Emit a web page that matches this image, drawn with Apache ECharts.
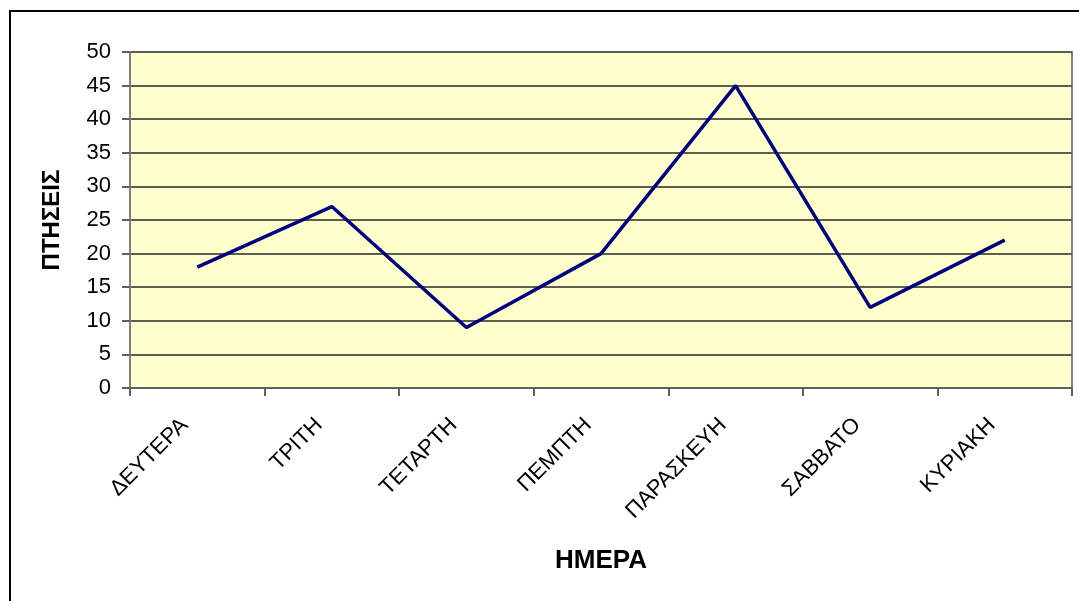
<!DOCTYPE html>
<html>
<head>
<meta charset="utf-8">
<script src="https://cdn.jsdelivr.net/npm/echarts@6/dist/echarts.min.js"></script>
<style>
  html, body { margin: 0; padding: 0; background: #fff; }
  #chart { width: 1079px; height: 601px; }
</style>
</head>
<body>
<div id="chart"></div>
<script>
// Flights per weekday
const days = ['ΔΕΥΤΕΡΑ', 'ΤΡΙΤΗ', 'ΤΕΤΑΡΤΗ', 'ΠΕΜΠΤΗ', 'ΠΑΡΑΣΚΕΥΗ', 'ΣΑΒΒΑΤΟ', 'ΚΥΡΙΑΚΗ'];
const flights = [18, 27, 9, 20, 45, 12, 22];
const yTicks = [0, 5, 10, 15, 20, 25, 30, 35, 40, 45, 50];

const FONT = '"Liberation Sans", Arial, sans-serif';

const chart = echarts.init(document.getElementById('chart'), null, { renderer: 'canvas' });

chart.setOption({
  animation: false,
  backgroundColor: '#ffffff',
  textStyle: { fontFamily: FONT },
  graphic: [
    {
      // outer chart frame (left and top edges visible)
      type: 'rect',
      shape: { x: 10, y: 11, width: 1200, height: 800 },
      style: { fill: 'none', stroke: '#000', lineWidth: 2 },
      silent: true,
      z: 100
    }
  ],
  grid: {
    left: 130,
    top: 52,
    right: 7,
    bottom: 213,
    show: true,
    backgroundColor: '#FFFFCC',
    borderColor: '#808080',
    borderWidth: 2
  },
  xAxis: {
    type: 'category',
    data: days,
    boundaryGap: true,
    name: 'ΗΜΕΡΑ',
    nameLocation: 'middle',
    nameGap: 160,
    nameTextStyle: { fontFamily: FONT, fontSize: 26, fontWeight: 'bold', color: '#000' },
    axisLine: { lineStyle: { color: '#606060', width: 2 } },
    axisTick: { show: true, length: 8, lineStyle: { color: '#606060', width: 2 } },
    axisLabel: {
      rotate: 45,
      interval: 0,
      margin: 21,
      padding: [0, 18, 0, 0],
      fontFamily: FONT,
      fontSize: 22,
      color: '#000'
    },
    splitLine: { show: false }
  },
  yAxis: {
    type: 'value',
    min: yTicks[0],
    max: yTicks[yTicks.length - 1],
    interval: yTicks[1] - yTicks[0],
    name: 'ΠΤΗΣΕΙΣ',
    nameLocation: 'middle',
    nameGap: 66,
    nameRotate: 90,
    nameTextStyle: { fontFamily: FONT, fontSize: 24, fontWeight: 'bold', color: '#000' },
    axisLine: { show: true, lineStyle: { color: '#808080', width: 2 } },
    axisTick: { show: true, length: 8, lineStyle: { color: '#606060', width: 2 } },
    axisLabel: {
      margin: 19,
      fontFamily: FONT,
      fontSize: 22,
      color: '#000'
    },
    splitLine: { show: true, lineStyle: { color: '#5e5e50', width: 2 } }
  },
  series: [
    {
      type: 'line',
      data: flights,
      symbol: 'none',
      lineStyle: { color: '#000080', width: 3.5 },
      itemStyle: { color: '#000080' },
      z: 5
    }
  ]
});
</script>
</body>
</html>
